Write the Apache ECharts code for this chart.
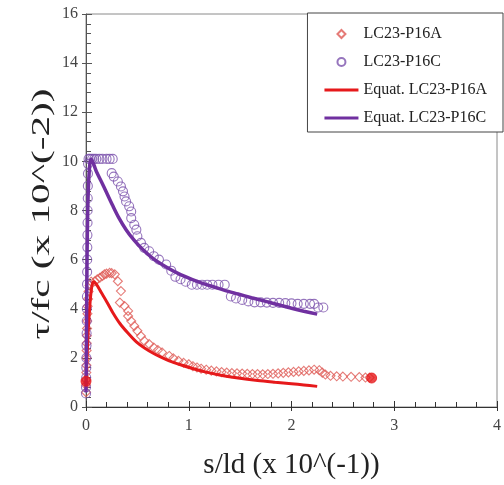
<!DOCTYPE html>
<html>
<head>
<meta charset="utf-8">
<script src="https://cdn.jsdelivr.net/npm/echarts@6/dist/echarts.min.js"></script>
<style>
  html, body { margin: 0; padding: 0; background: #fff; }
  #chart { width: 504px; height: 485px; }
</style>
</head>
<body>
<div id="chart"></div>
<script>
// Test results: normalised slip s/ld (x 10^-1) vs normalised bond stress tau/fc (x 10^-2)
var seriesNames = ['LC23-P16A', 'LC23-P16C', 'Equat. LC23-P16A', 'Equat. LC23-P16C'];
var xTitle = 's/ld (x 10^(-1))';
var yTitle = 'τ/fc (x 10^(-2))';

var xTicks = [0, 1, 2, 3, 4];
var yTicks = [0, 2, 4, 6, 8, 10, 12, 14, 16];

// Measured points, specimen LC23-P16A
var p16aPoints = [
  [0, 0.6], [0, 0.9], [0.002, 1.1], [0.003, 1.4], [0.004, 1.7], [0.005, 2.0],
  [0.006, 2.3], [0.007, 2.6], [0.008, 2.9], [0.01, 3.2], [0.012, 3.5], [0.014, 3.8],
  [0.016, 4.1], [0.02, 4.4], [0.025, 4.7], [0.035, 4.95], [0.05, 5.1], [0.087, 5.12],
  [0.11, 5.2], [0.135, 5.26], [0.16, 5.33], [0.18, 5.4], [0.2, 5.43], [0.23, 5.46],
  [0.25, 5.45], [0.28, 5.4], [0.31, 5.12], [0.34, 4.72], [0.33, 4.25], [0.375, 4.11],
  [0.41, 3.91], [0.41, 3.7], [0.44, 3.5], [0.47, 3.3], [0.5, 3.1], [0.535, 2.89],
  [0.567, 2.69], [0.615, 2.56], [0.66, 2.42], [0.7, 2.32], [0.74, 2.22], [0.81, 2.08],
  [0.85, 1.98], [0.9, 1.88], [0.95, 1.8], [1.0, 1.74], [1.04, 1.66], [1.08, 1.61],
  [1.12, 1.56], [1.17, 1.52], [1.22, 1.48], [1.27, 1.45], [1.32, 1.42], [1.37, 1.4],
  [1.42, 1.38], [1.47, 1.37], [1.52, 1.36], [1.57, 1.35], [1.62, 1.34], [1.67, 1.34],
  [1.72, 1.33], [1.77, 1.34], [1.82, 1.35], [1.87, 1.37], [1.92, 1.39], [1.97, 1.41],
  [2.02, 1.43], [2.07, 1.45], [2.12, 1.47], [2.17, 1.49], [2.22, 1.52], [2.27, 1.5],
  [2.3, 1.4], [2.33, 1.32], [2.38, 1.27], [2.44, 1.25], [2.5, 1.24], [2.58, 1.23],
  [2.66, 1.22], [2.72, 1.2], [2.76, 1.2]
];
// first and last readings of LC23-P16A, drawn solid
var p16aEnds = [[0, 1.05], [2.78, 1.18]];

// Measured points, specimen LC23-P16C
var p16cPoints = [
  [0, 0.55], [0, 0.8], [0.002, 1.2], [0.003, 1.6], [0.004, 2.0], [0.005, 2.5],
  [0.006, 3.0], [0.007, 3.5], [0.008, 4.0], [0.009, 4.5], [0.01, 5.0], [0.011, 5.5],
  [0.012, 6.0], [0.013, 6.5], [0.014, 7.0], [0.015, 7.5], [0.016, 8.0], [0.017, 8.5],
  [0.018, 9.0], [0.019, 9.5], [0.02, 9.9], [0.025, 10.1], [0.04, 10.1], [0.06, 10.1],
  [0.08, 10.1], [0.1, 10.1], [0.13, 10.1], [0.16, 10.1], [0.2, 10.1], [0.23, 10.1],
  [0.26, 10.1], [0.25, 9.52], [0.27, 9.38], [0.31, 9.18], [0.34, 8.98], [0.36, 8.78],
  [0.375, 8.57], [0.39, 8.37], [0.42, 8.17], [0.44, 7.96], [0.44, 7.69], [0.47, 7.42],
  [0.49, 7.22], [0.5, 6.95], [0.535, 6.68], [0.567, 6.48], [0.615, 6.34], [0.66, 6.14],
  [0.71, 6.0], [0.78, 5.8], [0.83, 5.55], [0.87, 5.3], [0.92, 5.2], [0.97, 5.1],
  [1.03, 4.98], [1.08, 4.98], [1.13, 4.98], [1.18, 4.98], [1.23, 4.98], [1.29, 4.98],
  [1.35, 4.98], [1.41, 4.5], [1.46, 4.42], [1.52, 4.36], [1.58, 4.3], [1.64, 4.26],
  [1.7, 4.26], [1.76, 4.25], [1.82, 4.24], [1.88, 4.24], [1.94, 4.23], [2.0, 4.22],
  [2.06, 4.2], [2.12, 4.2], [2.18, 4.2], [2.22, 4.2], [2.26, 4.05], [2.31, 4.05]
];

// Fitted bond-slip curves
var p16aCurve = [
  [0, 0.8], [0.01, 2.0], [0.02, 3.0], [0.035, 4.0], [0.05, 4.7], [0.07, 5.1],
  [0.1, 5.0], [0.15, 4.65], [0.2, 4.3], [0.26, 3.85], [0.33, 3.4], [0.41, 3.0],
  [0.49, 2.65], [0.57, 2.4], [0.65, 2.2], [0.73, 2.03], [0.81, 1.88], [0.92, 1.72],
  [1.03, 1.58], [1.16, 1.43], [1.3, 1.3], [1.48, 1.18], [1.67, 1.08], [1.84, 1.01],
  [2.0, 0.95], [2.12, 0.9], [2.25, 0.84]
];
var p16cCurve = [
  [0, 0.6], [0.005, 3.0], [0.01, 6.0], [0.02, 8.5], [0.035, 9.8], [0.05, 10.1],
  [0.1, 9.6], [0.17, 9.0], [0.26, 8.2], [0.32, 7.7], [0.39, 7.22], [0.47, 6.78],
  [0.55, 6.42], [0.66, 6.02], [0.78, 5.7], [0.9, 5.43], [1.03, 5.2], [1.18, 4.97],
  [1.35, 4.75], [1.48, 4.6], [1.61, 4.45], [1.75, 4.3], [1.9, 4.13], [2.0, 4.02],
  [2.12, 3.9], [2.25, 3.78]
];

var SERIF = '"Liberation Serif", "DejaVu Serif", serif';
var RED = '#e6191b';
var RED_MARK = '#de5a55';
var PURPLE = '#7030a0';
var PURPLE_MARK = '#7c52ad';
var DIAMOND = 'path://M0,-1L1,0L0,1L-1,0Z';
var BAR = 'path://M0,0H34V3H0Z';

var chart = echarts.init(document.getElementById('chart'), null, { renderer: 'canvas' });

var commonX = { type: 'value', min: xTicks[0], max: xTicks[xTicks.length - 1], interval: 1 };
var commonY = { type: 'value', min: yTicks[0], max: yTicks[yTicks.length - 1], interval: 2 };

chart.setOption({
  animation: false,
  backgroundColor: '#fff',
  grid: {
    left: 86, right: 2, top: 14, bottom: 77,
    show: true, borderColor: '#8a8a8a', borderWidth: 1, backgroundColor: 'transparent'
  },
  legend: {
    data: [
      { name: seriesNames[0], icon: DIAMOND },
      { name: seriesNames[1], icon: 'circle' },
      { name: seriesNames[2], icon: BAR },
      { name: seriesNames[3], icon: BAR }
    ],
    orient: 'vertical',
    right: 1, top: 13,
    backgroundColor: '#fff',
    borderColor: '#444', borderWidth: 1,
    padding: [13, 16, 6, 17],
    itemWidth: 34, itemHeight: 8, itemGap: 12,
    symbolKeepAspect: true,
    textStyle: { fontFamily: SERIF, fontSize: 16, color: '#222' },
    selectedMode: false
  },
  graphic: [
    {
      type: 'text',
      x: 42, y: 214,
      rotation: Math.PI / 2,
      scaleX: 1.42, scaleY: 0.9,
      style: {
        text: yTitle, fill: '#222',
        font: '29px "Liberation Serif", "DejaVu Serif", serif',
        textAlign: 'center', textVerticalAlign: 'middle'
      }
    }
  ],
  xAxis: [
    Object.assign({}, commonX, {
      position: 'bottom',
      name: xTitle,
      nameLocation: 'middle', nameGap: 44,
      nameTextStyle: { fontFamily: SERIF, fontSize: 29, color: '#222' },
      axisLine: { onZero: false, lineStyle: { color: '#333', width: 1 } },
      axisTick: { inside: true, length: 6, lineStyle: { color: '#333' } },
      minorTick: { show: true, splitNumber: 5, length: 5, lineStyle: { color: '#333' } },
      axisLabel: { margin: 11, fontFamily: SERIF, fontSize: 16, color: '#444' },
      splitLine: { show: false }
    }),
    Object.assign({}, commonX, {
      position: 'bottom',
      axisLine: { show: false },
      axisTick: { inside: false, length: 4, lineStyle: { color: '#333' } },
      axisLabel: { show: false },
      splitLine: { show: false }
    })
  ],
  yAxis: [
    Object.assign({}, commonY, {
      position: 'left',
      axisLine: { onZero: false, lineStyle: { color: '#555', width: 1 } },
      axisTick: { inside: true, length: 6, lineStyle: { color: '#555' } },
      minorTick: { show: true, splitNumber: 5, length: 5, lineStyle: { color: '#555' } },
      axisLabel: { margin: 8, fontFamily: SERIF, fontSize: 16, color: '#444' },
      splitLine: { show: false }
    }),
    Object.assign({}, commonY, {
      position: 'left',
      axisLine: { show: false },
      axisTick: { inside: false, length: 4, lineStyle: { color: '#555' } },
      axisLabel: { show: false },
      splitLine: { show: false }
    })
  ],
  series: [
    {
      name: seriesNames[0], type: 'scatter', data: p16aPoints,
      symbol: DIAMOND, symbolSize: 9, symbolKeepAspect: true,
      itemStyle: { color: 'rgba(255,255,255,0)', borderColor: RED_MARK, borderWidth: 1.1 },
      z: 2
    },
    {
      name: seriesNames[0], type: 'scatter', data: p16aEnds,
      symbol: 'circle', symbolSize: 10,
      itemStyle: { color: RED, borderColor: RED, borderWidth: 1 },
      z: 4
    },
    {
      name: seriesNames[1], type: 'scatter', data: p16cPoints,
      symbol: 'circle', symbolSize: 9,
      itemStyle: { color: 'rgba(255,255,255,0)', borderColor: PURPLE_MARK, borderWidth: 1.1 },
      z: 2
    },
    {
      name: seriesNames[2], type: 'line', data: p16aCurve,
      symbol: 'none', smooth: 0.3,
      lineStyle: { color: RED, width: 3 },
      itemStyle: { color: RED },
      z: 3
    },
    {
      name: seriesNames[3], type: 'line', data: p16cCurve,
      symbol: 'none', smooth: 0.3,
      lineStyle: { color: PURPLE, width: 3.5 },
      itemStyle: { color: PURPLE },
      z: 3
    }
  ]
});
</script>
</body>
</html>
